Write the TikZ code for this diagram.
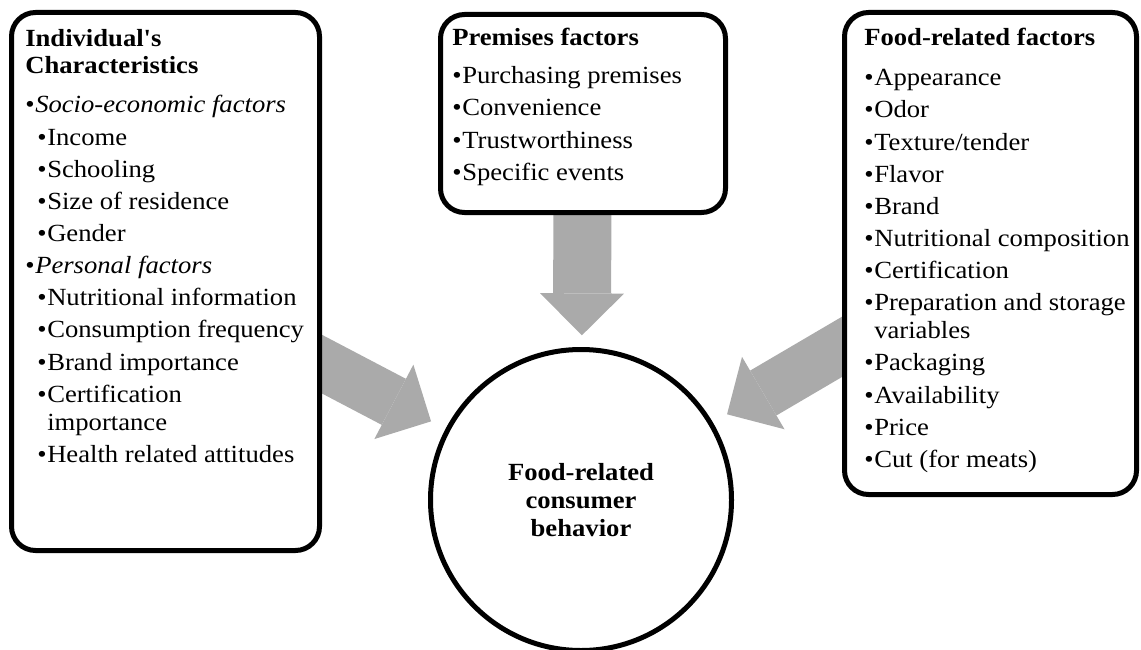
\documentclass[tikz,border=0pt]{standalone}
\usepackage{fontspec}
\setmainfont{Liberation Serif}[FakeStretch=1.08]
% same face without the TeX quote mapping, for the straight apostrophe
\newfontfamily\plainserif{Liberation Serif}[FakeStretch=1.08]
\usetikzlibrary{arrows.meta,calc,backgrounds}

\definecolor{arrowgray}{RGB}{170,170,170}
% bullet with its gap, and the indented one for sub-items
\newcommand{\bul}{\makebox[7.5pt][l]{\textbullet}}
\newcommand{\subbul}{\hspace*{9pt}\bul}

\begin{document}
\begin{tikzpicture}[x=0.75pt, y=-0.75pt,
  factorbox/.style={draw, line width=3.75pt, rounded corners=18pt, fill=white, inner sep=0pt, anchor=north west},
  factorlist/.style={anchor=north west, inner sep=0pt, align=left, font=\fontsize{18.5}{24.1}\selectfont},
  bigarrow/.style={arrowgray, line width=39pt, -{Triangle[length=31.5pt, width=63pt, line width'=0pt]}}]

  \useasboundingbox (0,0) rectangle (1141,649);

  % consumer behaviour in the middle
  \node[circle, draw, line width=3.75pt, fill=white, minimum size=225.75pt, align=center,
        font=\bfseries\fontsize{18.5}{20.8}\selectfont] (behavior) at (581,500)
        {Food-related\\consumer\\behavior};

  % the three groups of factors
  \node[factorbox, minimum width=231pt, minimum height=403.5pt] (individual) at (9,10) {};
  \node[factorbox, minimum width=213.75pt, minimum height=148.5pt] (premises) at (438,12) {};
  \node[factorbox, minimum width=219pt, minimum height=361.5pt] (food) at (842,10) {};

  \node[factorlist] (individual-list) at (25,29) {{\plainserif\bfseries Individual's}\\[-3.75pt]
    \textbf{Characteristics}\\[5.5pt]
    \bul\textit{Socio-economic factors}\\
    \subbul Income\\
    \subbul Schooling\\
    \subbul Size of residence\\
    \subbul Gender\\
    \bul\textit{Personal factors}\\
    \subbul Nutritional information\\
    \subbul Consumption frequency\\
    \subbul Brand importance\\
    \subbul Certification\\[-3pt]
    \hspace*{16.5pt}importance\\
    \subbul Health related attitudes};

  \node[factorlist] (premises-list) at (452,28) {\textbf{Premises factors}\\[4.5pt]
    \bul Purchasing premises\\
    \bul Convenience\\
    \bul Trustworthiness\\
    \bul Specific events};

  \node[factorlist] (food-list) at (864,28) {\textbf{Food-related factors}\\[6pt]
    \bul Appearance\\
    \bul Odor\\
    \bul Texture/tender\\
    \bul Flavor\\
    \bul Brand\\
    \bul Nutritional composition\\
    \bul Certification\\
    \bul Preparation and storage\\[-3pt]
    \hspace*{7.5pt}variables\\
    \bul Packaging\\
    \bul Availability\\
    \bul Price\\
    \bul Cut (for meats)};

  % grey arrows, tucked behind the boxes
  \begin{scope}[on background layer]
    \coordinate (individual-out) at ([yshift=-62pt]individual.east);
    \coordinate (food-out) at ([yshift=-70pt]food.west);
    \draw[bigarrow] ($(behavior.center)!1.25!(individual-out)$) -- ($(behavior.center)!127pt!(individual-out)$);
    \draw[bigarrow] ($(behavior.center)!1.25!(food-out)$) -- ($(behavior.center)!127pt!(food-out)$);
    \draw[bigarrow, line width=43.5pt] (premises.center) -- ($(behavior.center)!123.5pt!(premises.center)$);
  \end{scope}
\end{tikzpicture}
\end{document}
